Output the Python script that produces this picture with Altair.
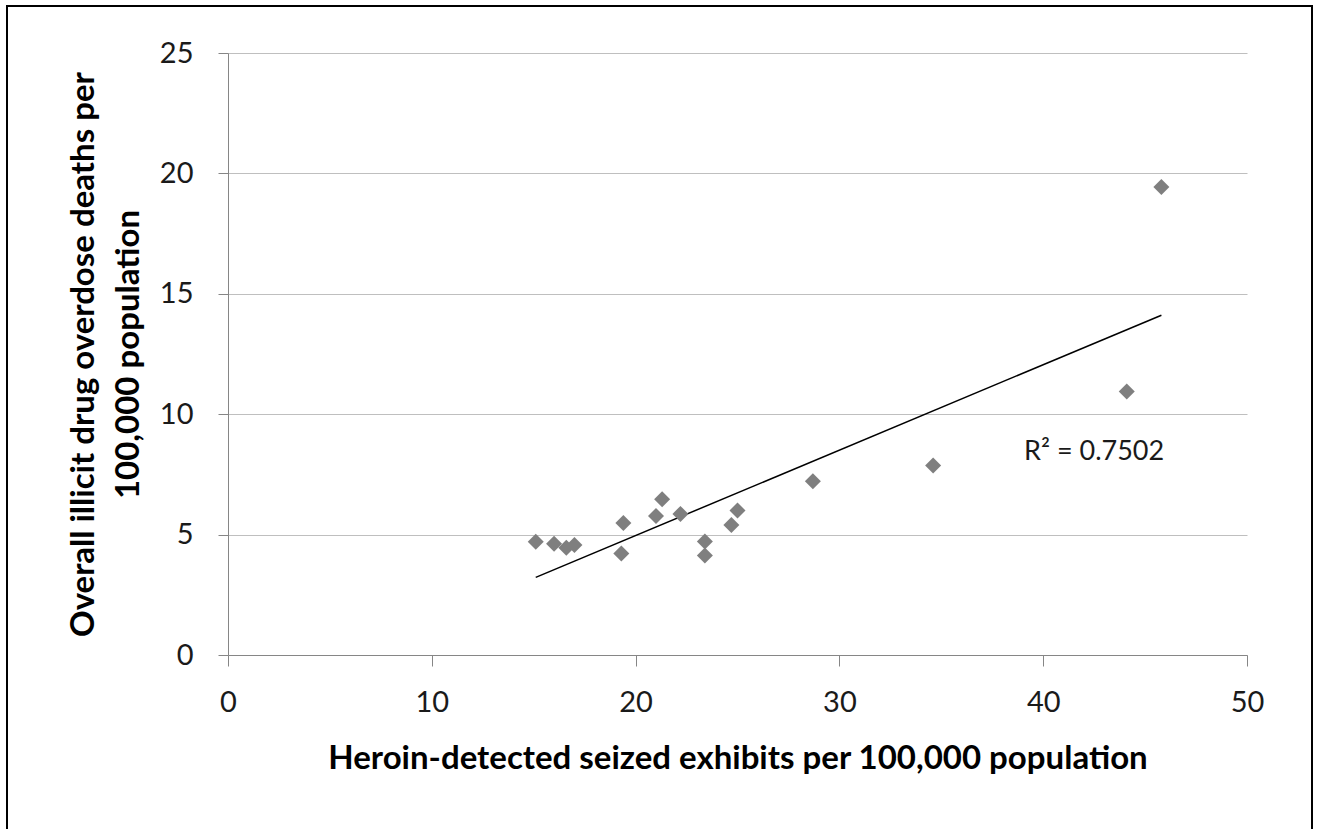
import altair as alt
import pandas as pd

# Heroin-detected seized exhibits vs. illicit drug overdose deaths (per 100,000)
seized_exhibits = [15.1, 16.0, 16.6, 17.0, 19.4, 19.3, 21.0, 21.3, 22.2,
                   23.4, 23.4, 24.7, 25.0, 28.7, 34.6, 44.1, 45.8]
overdose_deaths = [4.70, 4.62, 4.45, 4.57, 5.48, 4.22, 5.77, 6.47, 5.86,
                   4.71, 4.13, 5.40, 6.00, 7.22, 7.87, 10.94, 19.44]

r2_label = ["R\u00b2 = 0.7502"]
r2_x = [42.5]
r2_y = [8.45]

x_ticks = [0, 10, 20, 30, 40, 50]
y_ticks = [0, 5, 10, 15, 20, 25]

FONT = "Lato"
PLOT_W, PLOT_H = 1019, 602

points_df = pd.DataFrame({"exhibits": seized_exhibits, "deaths": overdose_deaths})
label_df = pd.DataFrame({"label": r2_label, "x": r2_x, "y": r2_y})

x_scale = alt.Scale(domain=[0, 50], nice=False, zero=True)
y_scale = alt.Scale(domain=[0, 25], nice=False, zero=True)

x_axis = alt.Axis(
    values=x_ticks, title="Heroin-detected seized exhibits per 100,000 population",
    grid=False, tickSize=11, labelPadding=22, labelFontSize=29, labelFont=FONT,
    labelFlush=False,
    labelColor="#1a1a1a", domainColor="#868686", tickColor="#868686",
    titleFont=FONT, titleFontSize=33, titleFontWeight="bold", titleColor="#000000",
    titleBaseline="alphabetic", titleY=113, titleX=PLOT_W / 2,
)
y_axis = alt.Axis(
    values=y_ticks,
    title=["Overall illicit drug overdose deaths per", "100,000 population"],
    grid=True, gridColor="#bfbfbf", gridWidth=1,
    tickSize=10, labelPadding=25, labelFontSize=29, labelFont=FONT,
    labelFlush=False,
    labelColor="#1a1a1a", domainColor="#868686", tickColor="#868686",
    titleFont=FONT, titleFontSize=33, titleFontWeight="bold", titleColor="#000000",
    titleAngle=-90, titleAlign="center", titleBaseline="alphabetic",
    titleX=-135, titleY=PLOT_H / 2, titleLineHeight=45,
)

base = alt.Chart(points_df)

# Outer frame around the whole figure
frame = alt.Chart(pd.DataFrame({"k": [0]})).mark_rect(
    fill="transparent", stroke="#000000", strokeWidth=2
).encode(
    x=alt.value(-221), x2=alt.value(1084),
    y=alt.value(-47), y2=alt.value(860),
)

points = base.mark_point(
    shape="diamond", filled=True, color="#7f7f7f", size=256, opacity=1
).encode(
    x=alt.X("exhibits:Q", scale=x_scale, axis=x_axis),
    y=alt.Y("deaths:Q", scale=y_scale, axis=y_axis),
)

trend = base.transform_regression("exhibits", "deaths").mark_line(
    color="#000000", strokeWidth=1.5
).encode(
    x=alt.X("exhibits:Q", scale=x_scale),
    y=alt.Y("deaths:Q", scale=y_scale),
)

r2_text = alt.Chart(label_df).mark_text(
    font=FONT, fontSize=27, color="#1a1a1a", align="center", baseline="middle"
).encode(
    x=alt.X("x:Q", scale=x_scale),
    y=alt.Y("y:Q", scale=y_scale),
    text="label:N",
)

chart = alt.layer(frame, trend, points, r2_text).properties(
    width=PLOT_W, height=PLOT_H,
    padding={"left": 228, "top": 53, "right": 74, "bottom": 174},
    autosize=alt.AutoSizeParams(type="none"),
    background="#ffffff",
).configure_view(stroke=None)

chart.save("out.html", embed_options={"renderer": "svg", "actions": False})
